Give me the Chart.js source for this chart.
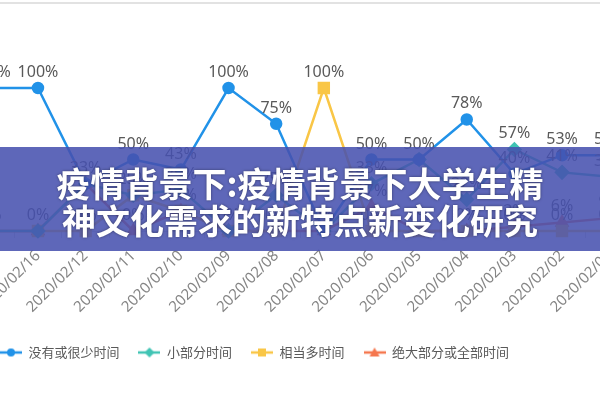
<!DOCTYPE html>
<html>
<head>
<meta charset="utf-8">
<script src="https://cdn.jsdelivr.net/npm/chart.js@4.4.1/dist/chart.umd.min.js"></script>
<style>
  html, body {
    margin: 0;
    padding: 0;
    width: 600px;
    height: 400px;
    overflow: hidden;
    background: #ffffff;
  }

  #frame {
    position: absolute;
    left: 0;
    top: 2px;
    width: 600px;
    height: 2px;
    background: #e2e2e2;
  }

  #chartBox {
    position: absolute;
    left: -134px;
    top: 0;
    width: 777px;
    height: 400px;
  }

  #banner {
    position: absolute;
    left: 0;
    top: 147px;
    width: 600px;
    height: 104px;
    box-sizing: border-box;
    padding-top: 17px;
    background: rgba(70, 80, 175, 0.87);
    color: #ffffff;
    font-family: "Noto Sans CJK SC", sans-serif;
    font-weight: 700;
    font-size: 34px;
    line-height: 37px;
    text-align: center;
    text-shadow: 0 0 3px rgba(0, 0, 0, 0.45);
    z-index: 2;
  }
</style>
</head>
<body>
<div id="frame"></div>
<div id="chartBox"><canvas id="lineChart"></canvas></div>
<div id="banner">疫情背景下:疫情背景下大学生精<br>神文化需求的新特点新变化研究</div>

<script>
// ======================================
// Adatok
// ======================================

const dates = [
  "2020/02/17", "2020/02/16", "2020/02/12", "2020/02/11", "2020/02/10",
  "2020/02/09", "2020/02/08", "2020/02/07", "2020/02/06", "2020/02/05",
  "2020/02/04", "2020/02/03", "2020/02/02", "2020/02/01"
];

const seriesNames = ["没有或很少时间", "小部分时间", "相当多时间", "绝大部分或全部时间"];

const littleTime = [100, 100, 33, 50, 43, 100, 75, 0, 50, 50, 78, 40, 53, 53];
const someTime = [0, 0, 33, 25, 29, 0, 25, 0, 33, 50, 22, 57, 41, 38];
const muchTime = [0, 0, 0, 25, 14, 0, 0, 100, 0, 0, 0, 0, 0, 0];
const allTime = [0, 0, 33, 0, 14, 0, 0, 0, 17, 0, 0, 3, 6, 9];

const seriesColors = ["#2192E8", "#40C4B4", "#F9C646", "#F5774E"];
const seriesPoints = ["circle", "rectRot", "rect", "triangle"];
const seriesRadius = [5, 6, 7, 6];


// ======================================
// Jelmagyarázat ikon (vonal + jelölő)
// ======================================

function makeLegendIcon(color, style) {
  const c = document.createElement("canvas");
  c.width = 22;
  c.height = 12;
  const g = c.getContext("2d");

  g.strokeStyle = color;
  g.fillStyle = color;
  g.lineWidth = 2.5;
  g.beginPath();
  g.moveTo(0, 6);
  g.lineTo(22, 6);
  g.stroke();

  g.beginPath();
  if (style === "circle") {
    g.arc(11, 6, 4, 0, Math.PI * 2);
  } else if (style === "rectRot") {
    g.moveTo(11, 1);
    g.lineTo(16, 6);
    g.lineTo(11, 11);
    g.lineTo(6, 6);
    g.closePath();
  } else if (style === "rect") {
    g.rect(7, 2, 8, 8);
  } else {
    g.moveTo(11, 1);
    g.lineTo(16, 10);
    g.lineTo(6, 10);
    g.closePath();
  }
  g.fill();

  return c;
}


// ======================================
// Pont feliratok (százalék)
// ======================================

const pointLabels = {
  id: "pointLabels",
  afterDatasetsDraw(chart) {
    const ctx = chart.ctx;
    const seen = {};

    ctx.save();
    ctx.font = '16px "Noto Sans", sans-serif';
    ctx.fillStyle = "#595959";
    ctx.textAlign = "center";
    ctx.textBaseline = "alphabetic";

    chart.data.datasets.forEach((ds, i) => {
      const meta = chart.getDatasetMeta(i);

      meta.data.forEach((pt, j) => {
        const text = ds.data[j] + "%";
        const key = j + "_" + text;

        if (seen[key]) {
          return;
        }

        seen[key] = true;
        ctx.fillText(text, pt.x, pt.y - 11);
      });
    });

    ctx.restore();
  }
};


// ======================================
// Diagram
// ======================================

const seriesData = [littleTime, someTime, muchTime, allTime];

const datasets = seriesData.map((values, i) => {
  return {
    label: seriesNames[i],
    data: values,
    borderColor: seriesColors[i],
    backgroundColor: seriesColors[i],
    pointBackgroundColor: seriesColors[i],
    pointBorderColor: seriesColors[i],
    pointStyle: seriesPoints[i],
    pointRadius: seriesRadius[i],
    borderWidth: 2.5,
    tension: 0,
    clip: false
  };
});

new Chart(document.getElementById("lineChart"), {
  type: "line",
  data: {
    labels: dates,
    datasets: datasets
  },
  options: {
    responsive: true,
    maintainAspectRatio: false,
    animation: false,
    events: [],
    layout: {
      padding: {
        top: 88,
        left: 0,
        right: 0,
        bottom: 31
      }
    },
    plugins: {
      tooltip: {
        enabled: false
      },
      legend: {
        position: "bottom",
        align: "center",
        labels: {
          usePointStyle: true,
          pointStyleWidth: 22,
          boxHeight: 13,
          padding: 19,
          color: "#595959",
          font: {
            family: "Noto Sans CJK SC",
            size: 13
          },
          generateLabels: (chart) => {
            const items = Chart.defaults.plugins.legend.labels.generateLabels(chart);

            items.forEach((item, i) => {
              item.pointStyle = makeLegendIcon(seriesColors[i], seriesPoints[i]);
            });

            return items;
          }
        }
      }
    },
    scales: {
      x: {
        offset: true,
        grid: {
          display: true,
          offset: true,
          drawOnChartArea: false,
          drawTicks: true,
          tickLength: 7,
          color: "#d9d9d9"
        },
        border: {
          display: true,
          color: "#d9d9d9"
        },
        ticks: {
          autoSkip: false,
          minRotation: 45,
          maxRotation: 45,
          padding: 9,
          color: "#858585",
          font: {
            family: "Noto Sans",
            size: 15
          }
        },
        afterFit: (scale) => {
          scale.height = 96;
          scale.paddingLeft = 0;
          scale.paddingRight = 0;
        }
      },
      y: {
        min: 0,
        max: 100,
        grid: {
          display: false
        },
        border: {
          display: false
        },
        ticks: {
          display: false
        },
        afterFit: (scale) => {
          scale.width = 100.5;
        }
      }
    }
  },
  plugins: [pointLabels]
});
</script>
</body>
</html>
